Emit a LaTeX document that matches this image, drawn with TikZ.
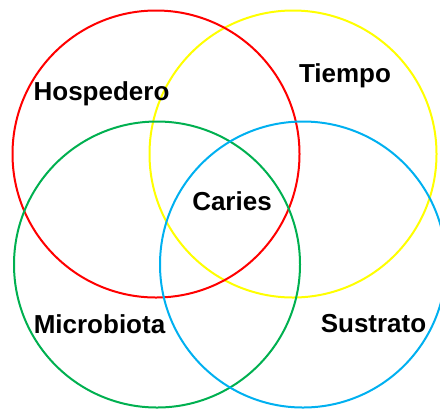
\documentclass[tikz,border=0pt]{standalone}
\usepackage{fontspec}
\setmainfont{Liberation Sans}
\definecolor{cred}{HTML}{FF0000}
\definecolor{cyel}{HTML}{FFFF00}
\definecolor{cgrn}{HTML}{00B050}
\definecolor{cblu}{HTML}{00B0F0}
\begin{document}
\begin{tikzpicture}[x=1bp,y=-1bp,
  ring/.style={line width=2bp},
  lbl/.style={anchor=base,inner sep=0pt,font=\fontsize{26bp}{30bp}\selectfont\bfseries}]
\clip (0,0) rectangle (440,408);
\useasboundingbox (0,0) rectangle (440,408);
\draw[ring,cyel] (293,154) circle[radius=143.5];
\draw[ring,cred] (156,154) circle[radius=143.5];
\draw[ring,cgrn] (157,264.5) circle[radius=143];
\draw[ring,cblu] (303,264.5) circle[radius=143];
\node[lbl] (h) at (101.5,100) {Hospedero};
\node[lbl] (t) at (345,82) {Tiempo};
\node[lbl] (c) at (232,210) {Caries};
\node[lbl] (m) at (99.5,333) {Microbiota};
\node[lbl] (s) at (373.5,332) {Sustrato};
\end{tikzpicture}
\end{document}
